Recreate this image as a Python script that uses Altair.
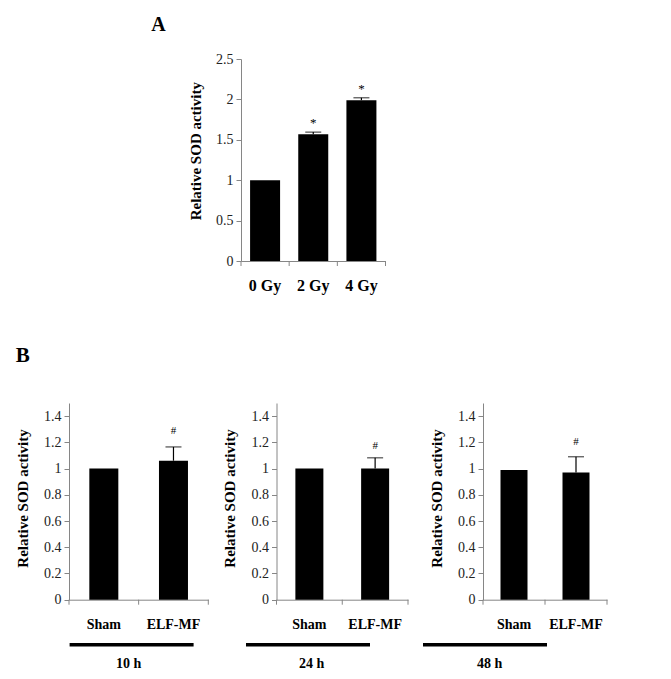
import altair as alt
import pandas as pd

# ---------------- data ----------------
# Panel A
doses = ["0 Gy", "2 Gy", "4 Gy"]
sod_dose = [1.0, 1.57, 1.99]
err_dose = [0.0, 0.025, 0.03]
sig_dose = ["", "*", "*"]
ticks_a = [0, 0.5, 1, 1.5, 2, 2.5]

# Panel B
groups = ["Sham", "ELF-MF"]
times = ["10 h", "24 h", "48 h"]
sod_10h = [1.0, 1.06]
err_10h = [0.0, 0.105]
sod_24h = [1.0, 1.0]
err_24h = [0.0, 0.082]
sod_48h = [0.99, 0.97]
err_48h = [0.0, 0.12]
sig_b = ["", "#"]
ticks_b = [0, 0.2, 0.4, 0.6, 0.8, 1, 1.2, 1.4]

Y_TITLE = "Relative SOD activity"

# ---------------- style ----------------
FONT = "Liberation Serif"
GRAY = "#868686"


def panel(cats, vals, errs, sigs, width, height, x0, x1, ymax, yticks, bar_w,
          xlab_size, xlab_pad, sig_size, sig_dy, title_x, title_y, extras):
    df = pd.DataFrame({"cat": cats, "v": vals, "e": errs, "s": sigs})
    base = alt.Chart(df).transform_calculate(hi="datum.v + datum.e")
    yscale = alt.Scale(domain=[0, ymax], nice=False, zero=True)
    yaxis = alt.Axis(values=yticks, format="~g", title=Y_TITLE,
                     titleX=title_x, titleY=title_y, titleAngle=-90,
                     titleBaseline="bottom", titleAlign="center",
                     titleFont=FONT, titleFontSize=15, titleFontWeight="bold",
                     titleColor="black", labelFont=FONT, labelFontSize=14,
                     labelColor="#222222", tickSize=5, labelPadding=3,
                     domainColor=GRAY, tickColor=GRAY, grid=False,
                     offset=-x0)
    xscale = alt.Scale(paddingInner=0, paddingOuter=0, range=[x0, x1])
    xaxis = alt.Axis(title=None, labelAngle=0, labelFont=FONT,
                     labelFontSize=xlab_size, labelFontWeight="bold",
                     labelColor="black", ticks=False, tickSize=0,
                     labelPadding=xlab_pad, domainColor=GRAY, grid=False)

    def X(**kw):
        return alt.X("cat:N", sort=cats, scale=xscale, axis=xaxis, **kw)

    def Y(field):
        return alt.Y(field, scale=yscale, axis=yaxis, title=Y_TITLE)

    bars = base.mark_bar(color="black", width=bar_w).encode(x=X(), y=Y("v:Q"))
    ebar = base.transform_filter("datum.e > 0").mark_rule(
        color="black", strokeWidth=1.2).encode(x=X(), y=Y("v:Q"), y2="hi:Q")
    caps = base.transform_filter("datum.e > 0").mark_tick(
        color="black", thickness=1.2, size=16, orient="horizontal").encode(
        x=X(), y=Y("hi:Q"))
    sig = base.transform_filter("datum.s != ''").mark_text(
        font=FONT, fontSize=sig_size, dy=sig_dy, baseline="alphabetic",
        color="black").encode(x=X(), y=Y("hi:Q"), text="s:N")
    xt = base.mark_rule(color=GRAY, strokeWidth=1).encode(
        x=X(bandPosition=0), y=alt.value(height), y2=alt.value(height + 5))
    one = alt.Chart(pd.DataFrame({"k": [0]}))
    endtick = one.mark_rule(color=GRAY, strokeWidth=1).encode(
        x=alt.value(x1), y=alt.value(height), y2=alt.value(height + 5))
    layers = [bars, ebar, caps, sig, xt, endtick]
    for ex in extras:
        kind = ex[0]
        if kind == "text":
            _, txt, x, y, size, align = ex
            layers.append(one.mark_text(font=FONT, fontSize=size,
                                        fontWeight="bold", align=align,
                                        baseline="alphabetic",
                                        color="black").encode(
                x=alt.value(x), y=alt.value(y), text=alt.value(txt)))
        elif kind == "line":
            _, lx1, lx2, y = ex
            layers.append(one.mark_rule(color="black", strokeWidth=3.5).encode(
                x=alt.value(lx1), x2=alt.value(lx2), y=alt.value(y)))
    return alt.layer(*layers).properties(width=width, height=height)


def spacer(w, h):
    return alt.Chart(pd.DataFrame({"k": [0]})).mark_point(opacity=0).encode(
        x=alt.value(0), y=alt.value(0)).properties(width=w, height=h)


# ---------------- layout (page pixel targets) ----------------
H_A = 202
H_B = 196.7
W_B = [139.3, 131.5, 124]
B_X = [68.7, 275.5, 481.7]           # left edge of each B plot
COL_SP = B_X[1] - B_X[0] - W_B[0]    # 67.5
COL1_W = B_X[2] - B_X[1] - COL_SP    # width of middle column
ROW_SP = 142
A_L, A_R = 240, 384.5                 # A plot left/right on the page

ax0 = A_L - B_X[1]
ax1 = A_R - B_X[1]
chart_a = panel(doses, sod_dose, err_dose, sig_dose, COL1_W, H_A, ax0, ax1,
                2.5, ticks_a, 30, 16, 16, 13, -5, -38, 91.7,
                [("text", "A", 157.5 - B_X[1], -27.6, 20, "center")])

line_pages = [(69.3, 193.3), (245, 369), (421.7, 545.7)]
label_pages = [128.3, 310.7, 488.3]
sod_list = [sod_10h, sod_24h, sod_48h]
err_list = [err_10h, err_24h, err_48h]
hash_dy = [-13.3, -9, -11.6]

b_panels = []
for i, t in enumerate(times):
    ox = B_X[i]
    extras = [("line", line_pages[i][0] - ox, line_pages[i][1] - ox, 241.7),
              ("text", t, label_pages[i] - ox, 265, 14, "center")]
    if i == 0:
        extras.append(("text", "B", 22.5 - ox, -41.3, 21, "center"))
    b_panels.append(panel(groups, sod_list[i], err_list[i], sig_b, W_B[i], H_B,
                          0, W_B[i], 1.5, ticks_b, 29 - i, 14, 17.5, 11,
                          hash_dy[i], -39, 95, extras))

sp1 = spacer(1, H_A)
sp2 = spacer(1, H_A)

chart = alt.concat(sp1, chart_a, sp2, *b_panels, columns=3,
                   spacing={"row": ROW_SP, "column": COL_SP},
                   bounds="flush", align="each").properties(
    padding={"left": 7, "top": 7, "right": 5, "bottom": 5}
).configure_view(stroke=None)

chart.save("out.html", embed_options={"renderer": "svg", "actions": False})
